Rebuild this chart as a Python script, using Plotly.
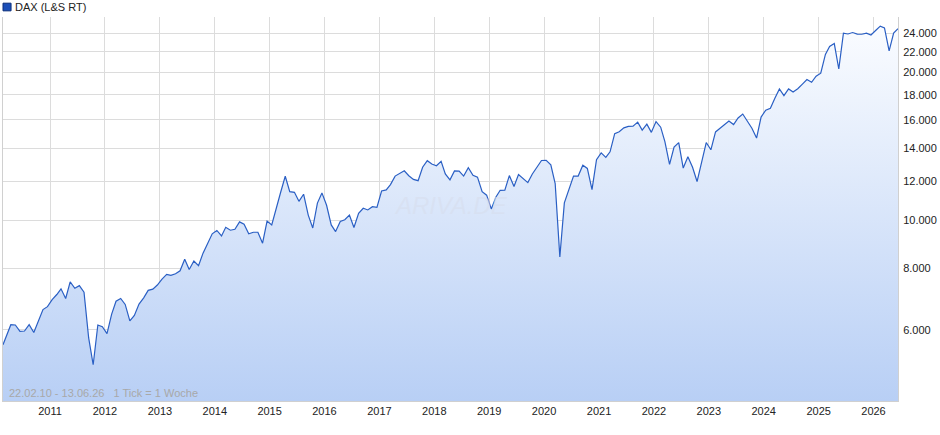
import pandas as pd
import plotly.graph_objects as go

# monthly DAX levels (start 22.02.10, end 13.06.26)
dates = ['2010-02-22'] + [d.strftime('%Y-%m-%d') for d in pd.date_range('2010-03-15', '2026-05-15', freq='MS') + pd.Timedelta(days=14)] + ['2026-06-13']
values = [
    5600, 6150, 6140, 5960, 5970, 6150, 5930, 6230, 6600, 6690, 6910,
    7080, 7270, 6950, 7510, 7290, 7380, 7160, 5780, 5100, 6140, 6090, 5900,
    6460, 6860, 6950, 6760, 6260, 6420, 6770, 6970, 7220, 7260, 7400, 7610,
    7780, 7740, 7800, 7910, 8350, 7960, 8280, 8100, 8590, 9030, 9400, 9550,
    9310, 9690, 9560, 9600, 9940, 9830, 9400, 9470, 9470, 9000, 9980, 9800,
    10690, 11400, 12300, 11450, 11410, 10940, 11310, 10260, 9660, 10850, 11380, 10740,
    9800, 9500, 9960, 10040, 10260, 9680, 10340, 10590, 10510, 10670, 10640, 11480,
    11540, 11830, 12310, 12440, 12620, 12330, 12120, 12050, 12830, 13230, 13020, 12920,
    13190, 12440, 12100, 12610, 12600, 12310, 12800, 12360, 12250, 11450, 11260, 10560,
    11170, 11520, 11530, 12340, 11730, 12400, 12190, 11940, 12430, 12870, 13240, 13250,
    12980, 11890, 8440, 10860, 11590, 12310, 12310, 12950, 12760, 11560, 13290, 13720,
    13430, 13790, 15010, 15140, 15420, 15530, 15540, 15840, 15260, 15690, 15100, 15880,
    15470, 14460, 13000, 14100, 14390, 12780, 13480, 12830, 12000, 13250, 14400, 13920,
    15130, 15370, 15630, 15920, 15660, 16150, 16450, 15950, 15390, 14700, 16220, 16750,
    16900, 17680, 18490, 17930, 18500, 18240, 18510, 18910, 19320, 19080, 19630, 19910,
    21730, 22550, 22860, 20300, 23990, 23910, 24070, 23900, 23880, 24000, 23800, 24300,
    24800, 24600, 22100, 24000, 24500, 24300,
]
tick_vals = [6000, 8000, 10000, 12000, 14000, 16000, 18000, 20000, 22000, 24000]
tick_text = ['6.000', '8.000', '10.000', '12.000', '14.000', '16.000', '18.000', '20.000', '22.000', '24.000']

y_lo, y_hi = 3.634, 4.413

fig = go.Figure()
# invisible baseline at the bottom of the axis so the fill gradient spans the visible area
fig.add_trace(go.Scatter(x=dates, y=[10 ** y_lo] * len(dates), mode='lines', line=dict(width=0),
                         showlegend=False, hoverinfo='skip'))
fig.add_trace(go.Scatter(
    x=dates, y=values, mode='lines', line=dict(color='#2a5fc4', width=1.2),
    fill='tonexty', fillgradient=dict(type='vertical', colorscale=[[0, '#b8cff5'], [1, '#fafcff']]),
    showlegend=False, hoverinfo='skip'))

# legend box
fig.add_shape(type='rect', xref='paper', yref='paper', x0=0.0, x1=0.009, y0=1.016, y1=1.036,
              fillcolor='#1c4fb8', line=dict(color='#0d2f7a', width=1))
fig.add_annotation(text='DAX (L&S RT)', xref='paper', yref='paper', x=0.011, y=1.026, xanchor='left',
                   yanchor='middle', showarrow=False, font=dict(size=11, color='#222'))
fig.add_annotation(text='22.02.10 - 13.06.26   1 Tick = 1 Woche', xref='paper', yref='paper', x=0.005, y=0.0,
                   xanchor='left', yanchor='bottom', showarrow=False, font=dict(size=11, color='#a8a8a8'))
fig.add_annotation(text='<i>ARIVA.DE</i>', xref='paper', yref='paper', x=0.5, y=0.51, showarrow=False,
                   font=dict(size=24, color='rgba(215,222,238,0.6)', family='Liberation Sans'))

fig.update_xaxes(type='date', range=['2010-02-22', '2026-06-13'], dtick='M12', tick0='2011-01-01', tickformat='%Y',
                 showgrid=True, gridcolor='#dcdcdc', showline=True, linecolor='#d0d0d0', ticks='',
                 tickfont=dict(size=11, color='#222'))
fig.update_yaxes(type='log', range=[y_lo, y_hi], side='right', tickvals=tick_vals, ticktext=tick_text,
                 showgrid=True, gridcolor='#dcdcdc', showline=True, linecolor='#d0d0d0', mirror=True, ticks='',
                 tickfont=dict(size=11, color='#222'), ticklabelstandoff=2)
fig.update_layout(
    width=940, height=435, margin=dict(l=3, r=42, t=17, b=34),
    plot_bgcolor='white', paper_bgcolor='white', showlegend=False,
    font=dict(family='Liberation Sans, Arial', size=11),
)
fig.write_html('out.html', config={'displayModeBar': False}, post_script="document.body.style.margin='0';")
